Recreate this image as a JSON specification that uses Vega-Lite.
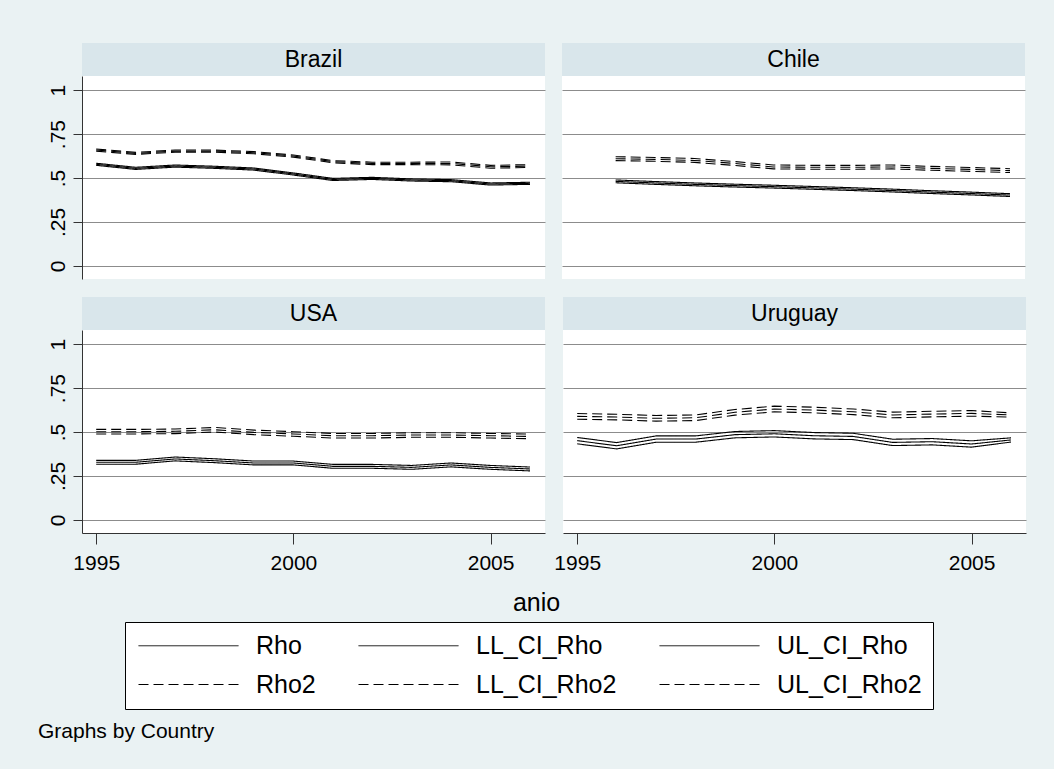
{
  "$schema": "https://vega.github.io/schema/vega-lite/v6.json",
  "background": "#EAF2F3",
  "padding": {"left": 38, "top": 43, "right": 28, "bottom": 32},
  "config": {
    "font": "Liberation Sans",
    "view": {"stroke": null},
    "title": {"fontWeight": "normal", "color": "black"},
    "axis": {"gridColor": "#8C8C8C", "gridWidth": 1, "domainColor": "#333333", "tickColor": "#333333", "labelColor": "black"}
  },
  "datasets": {
    "rho": [
      {"Country": "Brazil", "anio": 1995, "Rho": 0.578, "LL_CI_Rho": 0.572, "UL_CI_Rho": 0.584, "Rho2": 0.659, "LL_CI_Rho2": 0.653, "UL_CI_Rho2": 0.665},
      {"Country": "Brazil", "anio": 1996, "Rho": 0.555, "LL_CI_Rho": 0.549, "UL_CI_Rho": 0.561, "Rho2": 0.640, "LL_CI_Rho2": 0.634, "UL_CI_Rho2": 0.646},
      {"Country": "Brazil", "anio": 1997, "Rho": 0.568, "LL_CI_Rho": 0.562, "UL_CI_Rho": 0.574, "Rho2": 0.653, "LL_CI_Rho2": 0.647, "UL_CI_Rho2": 0.659},
      {"Country": "Brazil", "anio": 1998, "Rho": 0.561, "LL_CI_Rho": 0.555, "UL_CI_Rho": 0.567, "Rho2": 0.653, "LL_CI_Rho2": 0.647, "UL_CI_Rho2": 0.659},
      {"Country": "Brazil", "anio": 1999, "Rho": 0.551, "LL_CI_Rho": 0.545, "UL_CI_Rho": 0.557, "Rho2": 0.644, "LL_CI_Rho2": 0.638, "UL_CI_Rho2": 0.650},
      {"Country": "Brazil", "anio": 2000, "Rho": 0.523, "LL_CI_Rho": 0.517, "UL_CI_Rho": 0.529, "Rho2": 0.625, "LL_CI_Rho2": 0.619, "UL_CI_Rho2": 0.631},
      {"Country": "Brazil", "anio": 2001, "Rho": 0.492, "LL_CI_Rho": 0.486, "UL_CI_Rho": 0.498, "Rho2": 0.593, "LL_CI_Rho2": 0.587, "UL_CI_Rho2": 0.599},
      {"Country": "Brazil", "anio": 2002, "Rho": 0.498, "LL_CI_Rho": 0.492, "UL_CI_Rho": 0.504, "Rho2": 0.583, "LL_CI_Rho2": 0.576, "UL_CI_Rho2": 0.590},
      {"Country": "Brazil", "anio": 2003, "Rho": 0.489, "LL_CI_Rho": 0.483, "UL_CI_Rho": 0.495, "Rho2": 0.583, "LL_CI_Rho2": 0.576, "UL_CI_Rho2": 0.590},
      {"Country": "Brazil", "anio": 2004, "Rho": 0.485, "LL_CI_Rho": 0.479, "UL_CI_Rho": 0.491, "Rho2": 0.583, "LL_CI_Rho2": 0.575, "UL_CI_Rho2": 0.591},
      {"Country": "Brazil", "anio": 2005, "Rho": 0.466, "LL_CI_Rho": 0.460, "UL_CI_Rho": 0.472, "Rho2": 0.564, "LL_CI_Rho2": 0.556, "UL_CI_Rho2": 0.572},
      {"Country": "Brazil", "anio": 2006, "Rho": 0.470, "LL_CI_Rho": 0.464, "UL_CI_Rho": 0.476, "Rho2": 0.568, "LL_CI_Rho2": 0.560, "UL_CI_Rho2": 0.576},
      {"Country": "Chile", "anio": 1996, "Rho": 0.481, "LL_CI_Rho": 0.473, "UL_CI_Rho": 0.489, "Rho2": 0.610, "LL_CI_Rho2": 0.599, "UL_CI_Rho2": 0.621},
      {"Country": "Chile", "anio": 1997, "Rho": 0.472, "LL_CI_Rho": 0.464, "UL_CI_Rho": 0.480, "Rho2": 0.606, "LL_CI_Rho2": 0.595, "UL_CI_Rho2": 0.617},
      {"Country": "Chile", "anio": 1998, "Rho": 0.464, "LL_CI_Rho": 0.456, "UL_CI_Rho": 0.472, "Rho2": 0.600, "LL_CI_Rho2": 0.589, "UL_CI_Rho2": 0.611},
      {"Country": "Chile", "anio": 1999, "Rho": 0.457, "LL_CI_Rho": 0.449, "UL_CI_Rho": 0.465, "Rho2": 0.583, "LL_CI_Rho2": 0.572, "UL_CI_Rho2": 0.594},
      {"Country": "Chile", "anio": 2000, "Rho": 0.451, "LL_CI_Rho": 0.443, "UL_CI_Rho": 0.459, "Rho2": 0.563, "LL_CI_Rho2": 0.552, "UL_CI_Rho2": 0.574},
      {"Country": "Chile", "anio": 2001, "Rho": 0.444, "LL_CI_Rho": 0.436, "UL_CI_Rho": 0.452, "Rho2": 0.561, "LL_CI_Rho2": 0.550, "UL_CI_Rho2": 0.572},
      {"Country": "Chile", "anio": 2002, "Rho": 0.437, "LL_CI_Rho": 0.429, "UL_CI_Rho": 0.445, "Rho2": 0.561, "LL_CI_Rho2": 0.550, "UL_CI_Rho2": 0.572},
      {"Country": "Chile", "anio": 2003, "Rho": 0.429, "LL_CI_Rho": 0.421, "UL_CI_Rho": 0.437, "Rho2": 0.563, "LL_CI_Rho2": 0.552, "UL_CI_Rho2": 0.574},
      {"Country": "Chile", "anio": 2004, "Rho": 0.420, "LL_CI_Rho": 0.412, "UL_CI_Rho": 0.428, "Rho2": 0.555, "LL_CI_Rho2": 0.544, "UL_CI_Rho2": 0.566},
      {"Country": "Chile", "anio": 2005, "Rho": 0.412, "LL_CI_Rho": 0.404, "UL_CI_Rho": 0.420, "Rho2": 0.549, "LL_CI_Rho2": 0.538, "UL_CI_Rho2": 0.560},
      {"Country": "Chile", "anio": 2006, "Rho": 0.403, "LL_CI_Rho": 0.395, "UL_CI_Rho": 0.411, "Rho2": 0.542, "LL_CI_Rho2": 0.531, "UL_CI_Rho2": 0.553},
      {"Country": "USA", "anio": 1995, "Rho": 0.328, "LL_CI_Rho": 0.317, "UL_CI_Rho": 0.339, "Rho2": 0.502, "LL_CI_Rho2": 0.489, "UL_CI_Rho2": 0.515},
      {"Country": "USA", "anio": 1996, "Rho": 0.328, "LL_CI_Rho": 0.317, "UL_CI_Rho": 0.339, "Rho2": 0.502, "LL_CI_Rho2": 0.489, "UL_CI_Rho2": 0.515},
      {"Country": "USA", "anio": 1997, "Rho": 0.347, "LL_CI_Rho": 0.336, "UL_CI_Rho": 0.358, "Rho2": 0.504, "LL_CI_Rho2": 0.491, "UL_CI_Rho2": 0.517},
      {"Country": "USA", "anio": 1998, "Rho": 0.337, "LL_CI_Rho": 0.326, "UL_CI_Rho": 0.348, "Rho2": 0.513, "LL_CI_Rho2": 0.500, "UL_CI_Rho2": 0.526},
      {"Country": "USA", "anio": 1999, "Rho": 0.324, "LL_CI_Rho": 0.313, "UL_CI_Rho": 0.335, "Rho2": 0.498, "LL_CI_Rho2": 0.485, "UL_CI_Rho2": 0.511},
      {"Country": "USA", "anio": 2000, "Rho": 0.324, "LL_CI_Rho": 0.313, "UL_CI_Rho": 0.335, "Rho2": 0.489, "LL_CI_Rho2": 0.476, "UL_CI_Rho2": 0.502},
      {"Country": "USA", "anio": 2001, "Rho": 0.305, "LL_CI_Rho": 0.294, "UL_CI_Rho": 0.316, "Rho2": 0.479, "LL_CI_Rho2": 0.466, "UL_CI_Rho2": 0.492},
      {"Country": "USA", "anio": 2002, "Rho": 0.305, "LL_CI_Rho": 0.294, "UL_CI_Rho": 0.316, "Rho2": 0.479, "LL_CI_Rho2": 0.466, "UL_CI_Rho2": 0.492},
      {"Country": "USA", "anio": 2003, "Rho": 0.299, "LL_CI_Rho": 0.288, "UL_CI_Rho": 0.310, "Rho2": 0.483, "LL_CI_Rho2": 0.470, "UL_CI_Rho2": 0.496},
      {"Country": "USA", "anio": 2004, "Rho": 0.313, "LL_CI_Rho": 0.302, "UL_CI_Rho": 0.324, "Rho2": 0.483, "LL_CI_Rho2": 0.470, "UL_CI_Rho2": 0.496},
      {"Country": "USA", "anio": 2005, "Rho": 0.299, "LL_CI_Rho": 0.288, "UL_CI_Rho": 0.310, "Rho2": 0.479, "LL_CI_Rho2": 0.466, "UL_CI_Rho2": 0.492},
      {"Country": "USA", "anio": 2006, "Rho": 0.290, "LL_CI_Rho": 0.279, "UL_CI_Rho": 0.301, "Rho2": 0.475, "LL_CI_Rho2": 0.462, "UL_CI_Rho2": 0.488},
      {"Country": "Uruguay", "anio": 1995, "Rho": 0.451, "LL_CI_Rho": 0.433, "UL_CI_Rho": 0.469, "Rho2": 0.589, "LL_CI_Rho2": 0.573, "UL_CI_Rho2": 0.605},
      {"Country": "Uruguay", "anio": 1996, "Rho": 0.422, "LL_CI_Rho": 0.404, "UL_CI_Rho": 0.440, "Rho2": 0.585, "LL_CI_Rho2": 0.569, "UL_CI_Rho2": 0.601},
      {"Country": "Uruguay", "anio": 1997, "Rho": 0.460, "LL_CI_Rho": 0.442, "UL_CI_Rho": 0.478, "Rho2": 0.578, "LL_CI_Rho2": 0.562, "UL_CI_Rho2": 0.594},
      {"Country": "Uruguay", "anio": 1998, "Rho": 0.460, "LL_CI_Rho": 0.442, "UL_CI_Rho": 0.478, "Rho2": 0.581, "LL_CI_Rho2": 0.565, "UL_CI_Rho2": 0.597},
      {"Country": "Uruguay", "anio": 1999, "Rho": 0.485, "LL_CI_Rho": 0.467, "UL_CI_Rho": 0.503, "Rho2": 0.612, "LL_CI_Rho2": 0.596, "UL_CI_Rho2": 0.628},
      {"Country": "Uruguay", "anio": 2000, "Rho": 0.490, "LL_CI_Rho": 0.472, "UL_CI_Rho": 0.508, "Rho2": 0.631, "LL_CI_Rho2": 0.615, "UL_CI_Rho2": 0.647},
      {"Country": "Uruguay", "anio": 2001, "Rho": 0.479, "LL_CI_Rho": 0.461, "UL_CI_Rho": 0.497, "Rho2": 0.625, "LL_CI_Rho2": 0.609, "UL_CI_Rho2": 0.641},
      {"Country": "Uruguay", "anio": 2002, "Rho": 0.475, "LL_CI_Rho": 0.457, "UL_CI_Rho": 0.493, "Rho2": 0.615, "LL_CI_Rho2": 0.599, "UL_CI_Rho2": 0.631},
      {"Country": "Uruguay", "anio": 2003, "Rho": 0.441, "LL_CI_Rho": 0.423, "UL_CI_Rho": 0.459, "Rho2": 0.597, "LL_CI_Rho2": 0.581, "UL_CI_Rho2": 0.613},
      {"Country": "Uruguay", "anio": 2004, "Rho": 0.445, "LL_CI_Rho": 0.427, "UL_CI_Rho": 0.463, "Rho2": 0.602, "LL_CI_Rho2": 0.586, "UL_CI_Rho2": 0.618},
      {"Country": "Uruguay", "anio": 2005, "Rho": 0.432, "LL_CI_Rho": 0.414, "UL_CI_Rho": 0.450, "Rho2": 0.606, "LL_CI_Rho2": 0.590, "UL_CI_Rho2": 0.622},
      {"Country": "Uruguay", "anio": 2006, "Rho": 0.455, "LL_CI_Rho": 0.443, "UL_CI_Rho": 0.467, "Rho2": 0.597, "LL_CI_Rho2": 0.585, "UL_CI_Rho2": 0.609}
    ]
  },
  "data": {"name": "rho"},
  "title": {"text": "Graphs by Country", "orient": "bottom", "anchor": "start", "fontSize": 21, "offset": 11, "dx": -9},
  "resolve": {"scale": {"strokeDash": "shared"}, "legend": {"strokeDash": "shared"}},
  "spacing": 18,
  "vconcat": [
    {
      "hconcat": [
        {
          "spacing": 0,
          "vconcat": [
            {"width": 463, "height": 33, "view": {"fill": "#D9E6EB", "stroke": null},
             "data": {"values": [{"Country": "Brazil"}]},
             "mark": {"type": "text", "fontSize": 23, "color": "black"},
             "encoding": {"text": {"field": "Country"}}},
            {"width": 463, "height": 203, "view": {"fill": "white", "stroke": null},
             "transform": [{"filter": "datum.Country === 'Brazil'"}, {"fold": ["Rho", "LL_CI_Rho", "UL_CI_Rho", "Rho2", "LL_CI_Rho2", "UL_CI_Rho2"], "as": ["series", "value"]}],
             "mark": {"type": "line", "color": "black", "strokeWidth": 1.1},
             "encoding": {
               "x": {"field": "anio", "type": "quantitative", "scale": {"domain": [1994.64, 2006.38], "nice": false, "zero": false}, "axis": null},
               "y": {"field": "value", "type": "quantitative", "scale": {"domain": [-0.074, 1.08], "nice": false, "zero": false},
                     "axis": {"values": [0, 0.25, 0.5, 0.75, 1], "format": ".2~f", "labelExpr": "replace(datum.label, '0.', '.')", "title": null, "grid": true, "tickSize": 9, "labelAngle": 270, "labelFontSize": 21, "labelPadding": 5}},
               "strokeDash": {"field": "series", "type": "nominal",
                 "scale": {"domain": ["Rho", "LL_CI_Rho", "UL_CI_Rho", "Rho2", "LL_CI_Rho2", "UL_CI_Rho2"], "range": [[1, 0], [1, 0], [1, 0], [10, 5], [10, 5], [10, 5]]},
                 "legend": {"orient": "none", "legendX": 43, "legendY": 579, "direction": "horizontal", "columns": 3, "title": null,
                   "symbolType": "M-10,0H10", "symbolSize": 100, "symbolOffset": 40, "labelOffset": 55,
                   "symbolStrokeColor": "black", "symbolFillColor": "transparent", "symbolStrokeWidth": 1,
                   "labelFontSize": 25, "labelColor": "black", "labelLimit": 400,
                   "columnPadding": 40, "rowPadding": 13, "padding": 11, "strokeColor": "black", "fillColor": "white", "gridAlign": "each"}}
             }}
          ]
        },
        {
          "spacing": 0,
          "vconcat": [
            {"width": 463, "height": 33, "view": {"fill": "#D9E6EB", "stroke": null},
             "data": {"values": [{"Country": "Chile"}]},
             "mark": {"type": "text", "fontSize": 23, "color": "black"},
             "encoding": {"text": {"field": "Country"}}},
            {"width": 463, "height": 203, "view": {"fill": "white", "stroke": null},
             "transform": [{"filter": "datum.Country === 'Chile'"}, {"fold": ["Rho", "LL_CI_Rho", "UL_CI_Rho", "Rho2", "LL_CI_Rho2", "UL_CI_Rho2"], "as": ["series", "value"]}],
             "mark": {"type": "line", "color": "black", "strokeWidth": 1.1},
             "encoding": {
               "x": {"field": "anio", "type": "quantitative", "scale": {"domain": [1994.64, 2006.38], "nice": false, "zero": false}, "axis": null},
               "y": {"field": "value", "type": "quantitative", "scale": {"domain": [-0.074, 1.08], "nice": false, "zero": false},
                     "axis": {"values": [0, 0.25, 0.5, 0.75, 1], "title": null, "grid": true, "labels": false, "ticks": false, "domain": false}},
               "strokeDash": {"field": "series", "type": "nominal",
                 "scale": {"domain": ["Rho", "LL_CI_Rho", "UL_CI_Rho", "Rho2", "LL_CI_Rho2", "UL_CI_Rho2"], "range": [[1, 0], [1, 0], [1, 0], [10, 5], [10, 5], [10, 5]]}}
             }}
          ]
        }
      ],
      "spacing": 17
    },
    {
      "title": {"text": "anio", "orient": "bottom", "anchor": "middle", "fontSize": 25, "offset": 18},
      "hconcat": [
        {
          "spacing": 0,
          "vconcat": [
            {"width": 463, "height": 33, "view": {"fill": "#D9E6EB", "stroke": null},
             "data": {"values": [{"Country": "USA"}]},
             "mark": {"type": "text", "fontSize": 23, "color": "black"},
             "encoding": {"text": {"field": "Country"}}},
            {"width": 463, "height": 203, "view": {"fill": "white", "stroke": null},
             "transform": [{"filter": "datum.Country === 'USA'"}, {"fold": ["Rho", "LL_CI_Rho", "UL_CI_Rho", "Rho2", "LL_CI_Rho2", "UL_CI_Rho2"], "as": ["series", "value"]}],
             "mark": {"type": "line", "color": "black", "strokeWidth": 1.1},
             "encoding": {
               "x": {"field": "anio", "type": "quantitative", "scale": {"domain": [1994.64, 2006.38], "nice": false, "zero": false},
                     "axis": {"values": [1995, 2000, 2005], "format": "d", "title": null, "grid": false, "tickSize": 11, "labelFontSize": 21, "labelPadding": 8, "labelFlush": false, "labelOverlap": false}},
               "y": {"field": "value", "type": "quantitative", "scale": {"domain": [-0.074, 1.08], "nice": false, "zero": false},
                     "axis": {"values": [0, 0.25, 0.5, 0.75, 1], "format": ".2~f", "labelExpr": "replace(datum.label, '0.', '.')", "title": null, "grid": true, "tickSize": 9, "labelAngle": 270, "labelFontSize": 21, "labelPadding": 5}},
               "strokeDash": {"field": "series", "type": "nominal",
                 "scale": {"domain": ["Rho", "LL_CI_Rho", "UL_CI_Rho", "Rho2", "LL_CI_Rho2", "UL_CI_Rho2"], "range": [[1, 0], [1, 0], [1, 0], [10, 5], [10, 5], [10, 5]]}}
             }}
          ]
        },
        {
          "spacing": 0,
          "vconcat": [
            {"width": 463, "height": 33, "view": {"fill": "#D9E6EB", "stroke": null},
             "data": {"values": [{"Country": "Uruguay"}]},
             "mark": {"type": "text", "fontSize": 23, "color": "black"},
             "encoding": {"text": {"field": "Country"}}},
            {"width": 463, "height": 203, "view": {"fill": "white", "stroke": null},
             "transform": [{"filter": "datum.Country === 'Uruguay'"}, {"fold": ["Rho", "LL_CI_Rho", "UL_CI_Rho", "Rho2", "LL_CI_Rho2", "UL_CI_Rho2"], "as": ["series", "value"]}],
             "mark": {"type": "line", "color": "black", "strokeWidth": 1.1},
             "encoding": {
               "x": {"field": "anio", "type": "quantitative", "scale": {"domain": [1994.64, 2006.38], "nice": false, "zero": false},
                     "axis": {"values": [1995, 2000, 2005], "format": "d", "title": null, "grid": false, "tickSize": 11, "labelFontSize": 21, "labelPadding": 8, "labelFlush": false, "labelOverlap": false}},
               "y": {"field": "value", "type": "quantitative", "scale": {"domain": [-0.074, 1.08], "nice": false, "zero": false},
                     "axis": {"values": [0, 0.25, 0.5, 0.75, 1], "title": null, "grid": true, "labels": false, "ticks": false, "domain": false}},
               "strokeDash": {"field": "series", "type": "nominal",
                 "scale": {"domain": ["Rho", "LL_CI_Rho", "UL_CI_Rho", "Rho2", "LL_CI_Rho2", "UL_CI_Rho2"], "range": [[1, 0], [1, 0], [1, 0], [10, 5], [10, 5], [10, 5]]}}
             }}
          ]
        }
      ],
      "spacing": 8
    }
  ]
}
